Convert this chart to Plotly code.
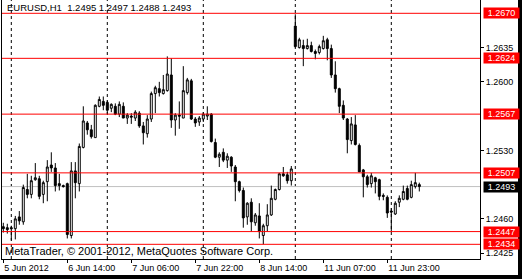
import plotly.graph_objects as go

# ---- data (EURUSD H1, bar index 0..104) ----
opens = [1.2452,1.2451,1.2451,1.2450,1.2462,1.2457,1.2490,1.2485,1.2500,1.2501,
         1.2485,1.2498,1.2515,1.2512,1.2496,1.2494,1.2496,1.2443,1.2509,1.2496,
         1.2533,1.2558,1.2551,1.2543,1.2575,1.2580,1.2579,1.2573,1.2575,1.2567,
         1.2575,1.2563,1.2565,1.2563,1.2568,1.2555,1.2547,1.2562,1.2588,1.2593,
         1.2588,1.2591,1.2607,1.2561,1.2566,1.2563,1.2589,1.2601,1.2562,1.2559,
         1.2562,1.2565,1.2567,1.2538,1.2523,1.2528,1.2520,1.2523,1.2513,1.2498,
         1.2489,1.2462,1.2477,1.2456,1.2463,1.2443,1.2453,1.2464,1.2480,1.2490,
         1.2506,1.2505,1.2499,1.2657,1.2635,1.2637,1.2634,1.2637,1.2631,1.2630,
         1.2634,1.2643,1.2634,1.2607,1.2593,1.2576,1.2562,1.2540,1.2556,1.2535,
         1.2510,1.2503,1.2496,1.2502,1.2500,1.2484,1.2482,1.2468,1.2465,1.2477,
         1.2480,1.2491,1.2482,1.2493,1.2495]
highs = [1.2456,1.2455,1.2453,1.2463,1.2468,1.2495,1.2506,1.2504,1.2517,1.2504,
         1.2499,1.2520,1.2528,1.2517,1.2506,1.2495,1.2497,1.2518,1.2518,1.2537,
         1.2575,1.2560,1.2556,1.2577,1.2585,1.2585,1.2581,1.2578,1.2578,1.2580,
         1.2579,1.2568,1.2568,1.2571,1.2570,1.2559,1.2566,1.2590,1.2596,1.2600,
         1.2607,1.2626,1.2624,1.2568,1.2580,1.2616,1.2604,1.2603,1.2564,1.2565,
         1.2569,1.2575,1.2568,1.2542,1.2528,1.2532,1.2527,1.2524,1.2515,1.2499,
         1.2492,1.2477,1.2481,1.2466,1.2476,1.2455,1.2475,1.2494,1.2491,1.2507,
         1.2513,1.2508,1.2514,1.2669,1.2645,1.2643,1.2644,1.2641,1.2633,1.2638,
         1.2647,1.2645,1.2638,1.2621,1.2594,1.2581,1.2563,1.2564,1.2566,1.2537,
         1.2511,1.2505,1.2507,1.2503,1.2501,1.2486,1.2484,1.2471,1.2478,1.2484,
         1.2494,1.2494,1.2499,1.2507,1.2497]
lows = [1.2446,1.2445,1.2438,1.2439,1.2454,1.2454,1.2481,1.2481,1.2499,1.2480,
        1.2476,1.2478,1.2508,1.2488,1.2489,1.2492,1.2440,1.2440,1.2481,1.2488,
        1.2532,1.2546,1.2542,1.2543,1.2574,1.2571,1.2567,1.2569,1.2566,1.2564,
        1.2563,1.2557,1.2557,1.2560,1.2553,1.2536,1.2543,1.2559,1.2568,1.2585,
        1.2587,1.2590,1.2553,1.2545,1.2552,1.2563,1.2587,1.2561,1.2554,1.2555,
        1.2559,1.2561,1.2538,1.2522,1.2513,1.2518,1.2512,1.2508,1.2478,1.2487,
        1.2451,1.2454,1.2447,1.2453,1.2440,1.2434,1.2447,1.2463,1.2479,1.2489,
        1.2503,1.2496,1.2494,1.2635,1.2634,1.2616,1.2633,1.2630,1.2623,1.2628,
        1.2633,1.2622,1.2604,1.2589,1.2568,1.2561,1.2527,1.2536,1.2535,1.2508,
        1.2482,1.2492,1.2492,1.2486,1.2479,1.2479,1.2461,1.2447,1.2464,1.2472,
        1.2479,1.2479,1.2481,1.2491,1.2488]
closes = [1.2450,1.2449,1.2450,1.2460,1.2458,1.2492,1.2485,1.2499,1.2502,1.2483,
          1.2497,1.2513,1.2512,1.2494,1.2494,1.2493,1.2444,1.2509,1.2497,1.2534,
          1.2560,1.2551,1.2544,1.2576,1.2582,1.2576,1.2571,1.2577,1.2567,1.2577,
          1.2563,1.2566,1.2564,1.2569,1.2555,1.2548,1.2562,1.2588,1.2594,1.2589,
          1.2592,1.2608,1.2561,1.2566,1.2565,1.2591,1.2602,1.2562,1.2558,1.2563,
          1.2567,1.2567,1.2539,1.2523,1.2526,1.2520,1.2524,1.2514,1.2498,1.2489,
          1.2461,1.2476,1.2457,1.2464,1.2447,1.2453,1.2464,1.2481,1.2490,1.2506,
          1.2504,1.2499,1.2511,1.2636,1.2643,1.2634,1.2637,1.2631,1.2629,1.2636,
          1.2642,1.2634,1.2607,1.2593,1.2575,1.2563,1.2541,1.2557,1.2536,1.2508,
          1.2503,1.2495,1.2504,1.2498,1.2483,1.2483,1.2466,1.2467,1.2476,1.2481,
          1.2488,1.2480,1.2495,1.2497,1.2493]
bars = list(range(len(opens)))

time_tick_bars = [0, 16, 32, 48, 64, 80, 96]
time_tick_labels = ["5 Jun 2012", "6 Jun 14:00", "7 Jun 06:00", "7 Jun 22:00",
                    "8 Jun 14:00", "11 Jun 07:00", "11 Jun 23:00"]
day_grid_bars = [2, 26, 50, 73, 97]
price_ticks = [1.2425, 1.2460, 1.2530, 1.2600, 1.2635]
levels = [1.2670, 1.2624, 1.2567, 1.2507, 1.2447, 1.2434]
bid = 1.2493
title_text = "EURUSD,H1  1.2495 1.2497 1.2488 1.2493"
copyright_text = "MetaTrader, \u00a9 2001-2012, MetaQuotes Software Corp."

# ---- layout geometry ----
W, H = 522, 279
ML, MR, MT, MB = 2, 42, 0, 20
PW, PH = W - ML - MR, H - MT - MB


def px_x(p):
    return (p - ML) / PW


def px_y(p):
    return (PH - (p - MT)) / PH


FONT = "Liberation Sans, Arial, sans-serif"

fig = go.Figure()
fig.add_trace(go.Candlestick(
    x=bars, open=opens, high=highs, low=lows, close=closes,
    increasing=dict(fillcolor="white", line=dict(color="black", width=1)),
    decreasing=dict(fillcolor="black", line=dict(color="black", width=1)),
    whiskerwidth=0, showlegend=False, hoverinfo="skip",
))

shapes = []
for b in day_grid_bars:
    shapes.append(dict(type="line", xref="x", yref="paper", x0=b, x1=b, y0=0, y1=1,
                       line=dict(color="black", width=1, dash="3px,3px"), layer="below"))
shapes.append(dict(type="line", xref="paper", yref="y", x0=0, x1=1, y0=bid, y1=bid,
                   line=dict(color="#c0c0c0", width=1), layer="below"))
for v in levels:
    shapes.append(dict(type="line", xref="paper", yref="y", x0=0, x1=1, y0=v, y1=v,
                       line=dict(color="#ff0000", width=1), layer="above"))
# black strips on right and bottom edge of the screenshot
shapes.append(dict(type="rect", xref="paper", yref="paper", x0=px_x(518), x1=px_x(530),
                   y0=px_y(290), y1=px_y(-10), fillcolor="black", line=dict(width=0)))
shapes.append(dict(type="rect", xref="paper", yref="paper", x0=px_x(-10), x1=px_x(530),
                   y0=px_y(290), y1=px_y(275), fillcolor="black", line=dict(width=0)))

annotations = []
for v in levels:
    annotations.append(dict(xref="paper", yref="y", x=px_x(483), y=v, xanchor="left",
                            yanchor="middle", text=f"{v:.4f}", showarrow=False,
                            bgcolor="#ff0000", width=35, height=10, borderpad=0,
                            font=dict(family=FONT, size=9, color="white")))
annotations.append(dict(xref="paper", yref="y", x=px_x(483), y=bid, xanchor="left",
                        yanchor="middle", text=f"{bid:.4f}", showarrow=False,
                        bgcolor="black", width=35, height=10, borderpad=0,
                        font=dict(family=FONT, size=9, color="white")))
annotations.append(dict(xref="paper", yref="paper", x=px_x(5), y=px_y(0), xanchor="left",
                        yanchor="top", text=title_text, showarrow=False,
                        font=dict(family=FONT, size=9.5, color="black")))
annotations.append(dict(xref="paper", yref="paper", x=px_x(3), y=px_y(259), xanchor="left",
                        yanchor="bottom", text=copyright_text, showarrow=False,
                        font=dict(family=FONT, size=11, color="black")))

fig.update_layout(
    width=W, height=H, margin=dict(l=ML, r=MR, t=MT, b=MB),
    paper_bgcolor="white", plot_bgcolor="white",
    shapes=shapes, annotations=annotations, showlegend=False,
    xaxis=dict(range=[-0.325, 119.175], rangeslider=dict(visible=False),
               tickmode="array", tickvals=time_tick_bars, ticktext=time_tick_labels,
               ticks="outside", ticklen=3, tickcolor="black",
               ticklabelposition="outside right",
               showgrid=False, zeroline=False, showline=True, linecolor="black",
               linewidth=1, mirror=True,
               tickfont=dict(family=FONT, size=9, color="black")),
    yaxis=dict(range=[1.24190, 1.26836], side="right",
               tickmode="array", tickvals=price_ticks,
               ticktext=[f"{t:.4f}" for t in price_ticks],
               ticks="outside", ticklen=3, tickcolor="black",
               showgrid=False, zeroline=False, showline=True, linecolor="black",
               linewidth=1, mirror=True,
               tickfont=dict(family=FONT, size=9, color="black")),
)

fig.write_html("out.html")
